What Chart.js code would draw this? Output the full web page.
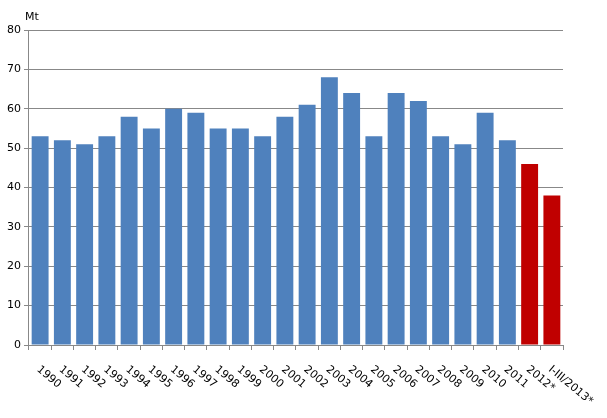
<!DOCTYPE html>
<html>
<head>
<meta charset="utf-8">
<script src="https://cdn.jsdelivr.net/npm/chart.js@4"></script>
<style>
  html, body { margin: 0; padding: 0; background: #fff; }
  #wrap { width: 607px; height: 418px; }
</style>
</head>
<body>
<div id="wrap"><canvas id="chart"></canvas></div>
<script>
const years = ['1990', '1991', '1992', '1993', '1994', '1995', '1996', '1997', '1998', '1999', '2000',
  '2001', '2002', '2003', '2004', '2005', '2006', '2007', '2008', '2009', '2010', '2011', '2012*', 'I-III/2013*'];
const emissions = [53, 52, 51, 53, 58, 55, 60, 59, 55, 55, 53, 58, 61, 68, 64, 53, 64, 62, 53, 51, 59, 52, 46, 38];
const preliminary = [false, false, false, false, false, false, false, false, false, false, false,
  false, false, false, false, false, false, false, false, false, false, false, true, true];
const yTicks = [0, 10, 20, 30, 40, 50, 60, 70, 80];
const unitLabel = 'Mt';

const FONT = 'DejaVu Sans, Verdana, sans-serif';

// piirtää vinot vuosiluvut ja yksikön
const extraText = {
  id: 'extraText',
  afterDraw(chart) {
    const ctx = chart.ctx;
    const x = chart.scales.x;
    ctx.save();
    ctx.fillStyle = '#000';
    ctx.font = '11px ' + FONT;
    ctx.textAlign = 'left';
    ctx.textBaseline = 'middle';
    years.forEach((lbl, i) => {
      const px = x.getPixelForValue(i);
      ctx.save();
      ctx.translate(px - 2, chart.chartArea.bottom + 23);
      ctx.rotate(40 * Math.PI / 180);
      ctx.fillText(lbl, 0, 0);
      ctx.restore();
    });
    ctx.textBaseline = 'alphabetic';
    ctx.fillText(unitLabel, 25, 20);
    ctx.restore();
  }
};

new Chart(document.getElementById('chart').getContext('2d'), {
  type: 'bar',
  data: {
    labels: years,
    datasets: [{
      data: emissions,
      backgroundColor: preliminary.map(p => p ? '#C00000' : '#4F81BD'),
      borderWidth: 0,
      barPercentage: 0.76,
      categoryPercentage: 1.0
    }]
  },
  options: {
    responsive: true,
    maintainAspectRatio: false,
    animation: false,
    layout: { padding: { left: 4, top: 30, right: 44, bottom: 68 } },
    plugins: { legend: { display: false }, tooltip: { enabled: false } },
    scales: {
      x: {
        offset: true,
        grid: { offset: true, drawOnChartArea: false, color: '#888', tickLength: 5, tickColor: '#888' },
        border: { color: '#888' },
        ticks: { display: false }
      },
      y: {
        min: 0,
        max: 80,
        afterBuildTicks: axis => { axis.ticks = yTicks.map(v => ({ value: v })); },
        grid: { color: '#888', tickLength: 5, tickColor: '#888' },
        border: { color: '#888' },
        ticks: { color: '#000', font: { family: FONT, size: 11 }, padding: 3 }
      }
    }
  },
  plugins: [extraText]
});
</script>
</body>
</html>
